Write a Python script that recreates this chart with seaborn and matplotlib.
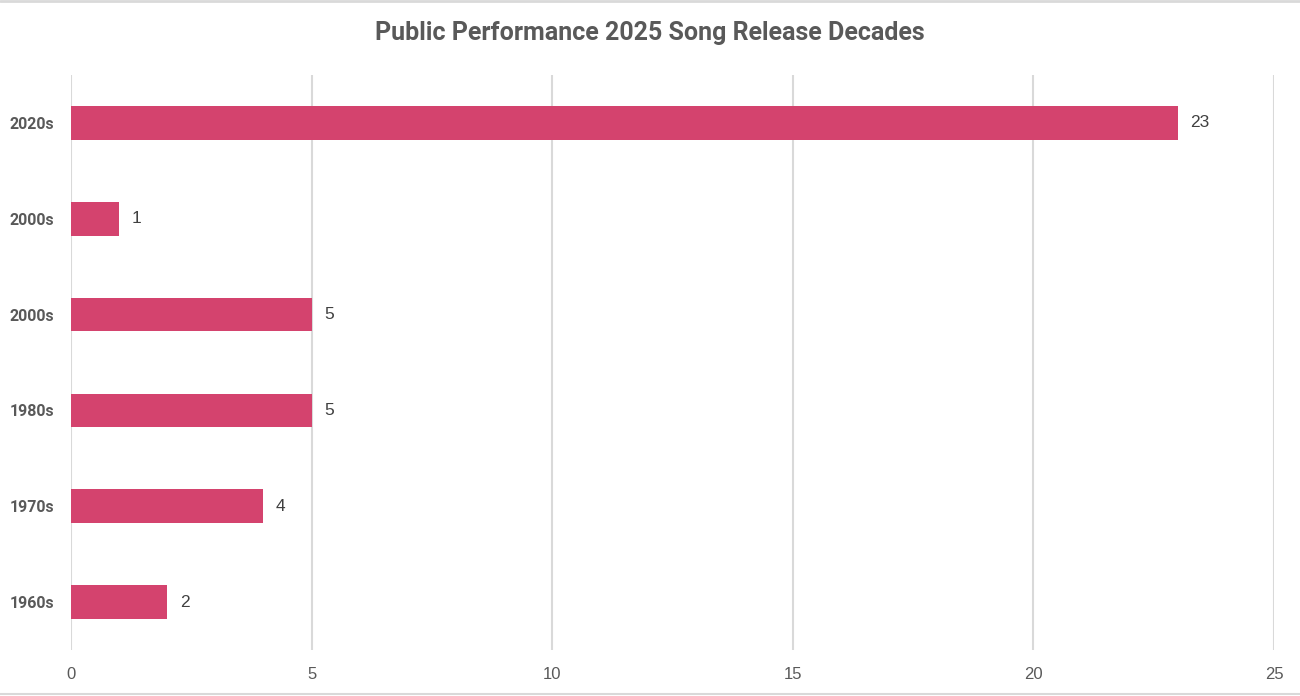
import numpy as np
import pandas as pd
import matplotlib
matplotlib.use("Agg")
import matplotlib.pyplot as plt
from matplotlib.lines import Line2D
import seaborn as sns

# ── Data ──────────────────────────────────────────────────────────────────────
decades = ["2020s", "2000s", "2000s", "1980s", "1970s", "1960s"]
counts  = [23, 1, 5, 5, 4, 2]
x_ticks = [0, 5, 10, 15, 20, 25]

BAR_COLOR  = "#D4436E"
TEXT_GRAY  = "#595959"
GRID_GRAY  = "#D9D9D9"

df = pd.DataFrame({
    "slot":  [str(i) for i in range(len(decades))],   # unique keys, labels repeat
    "count": counts,
})

sns.set_theme(style="white")
plt.rcParams["font.family"] = ["Liberation Sans Narrow", "Roboto", "DejaVu Sans"]

fig = plt.figure(figsize=(13, 6.96), dpi=100)
ax = fig.add_axes([71 / 1300, 1 - 650 / 696, (1274 - 71) / 1300, (650 - 75) / 696])

sns.barplot(data=df, x="count", y="slot", orient="h", color=BAR_COLOR,
            width=0.35, saturation=1, linewidth=0, ax=ax)

ax.set_xlim(0, 25)
ax.set_ylim(len(decades) - 0.5, -0.5)
ax.set_xticks(x_ticks)
ax.set_xticklabels([str(t) for t in x_ticks], fontsize=12, color=TEXT_GRAY,
                   family=["Liberation Sans", "DejaVu Sans"])
ax.set_yticks(range(len(decades)))
ax.set_yticklabels(decades, fontsize=11.5, fontweight="bold", color=TEXT_GRAY)
ax.tick_params(axis="x", length=0, pad=12)
ax.tick_params(axis="y", length=0, pad=12)
ax.set_xlabel(""); ax.set_ylabel("")

ax.xaxis.grid(True, color=GRID_GRAY, linewidth=1.5)
ax.set_axisbelow(True)
for s in ax.spines.values():
    s.set_visible(False)

for i, v in enumerate(counts):
    ax.annotate(str(v), (v, i), xytext=(9, 0), textcoords="offset points",
                va="center", ha="left", fontsize=12.5, color="#404040",
                family=["Liberation Sans", "DejaVu Sans"])

fig.text(0.5, 1 - 33 / 696, "Public Performance 2025 Song Release Decades",
         ha="center", va="center", fontsize=18, fontweight="bold", color=TEXT_GRAY)

# thin frame lines at top and bottom of the chart area
fig.add_artist(Line2D([0, 1], [1 - 1 / 696, 1 - 1 / 696], color=GRID_GRAY, lw=2))
fig.add_artist(Line2D([0, 1], [2 / 696, 2 / 696], color=GRID_GRAY, lw=1.5))

fig.savefig("out.png", dpi=100)
